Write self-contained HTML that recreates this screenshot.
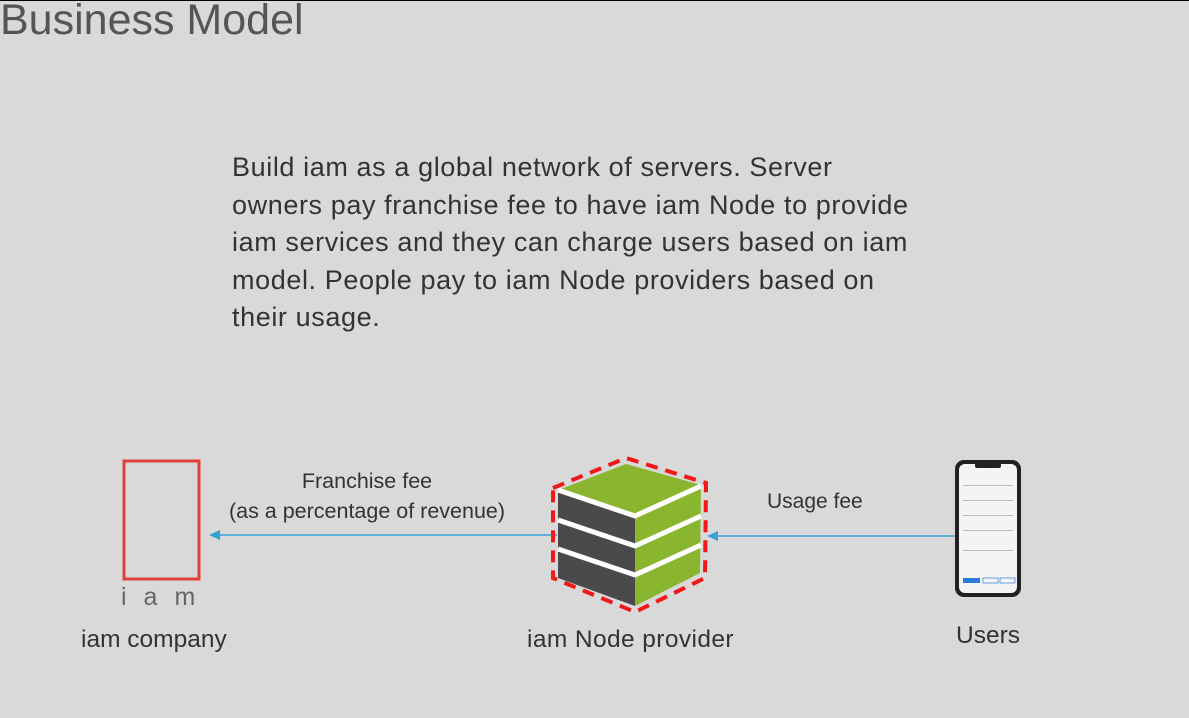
<!DOCTYPE html>
<html><head><style>
body{margin:0;width:1189px;height:718px;background:#d9d9d9;position:relative;overflow:hidden;font-family:"Liberation Sans",sans-serif;}
.t{position:absolute;white-space:nowrap;}
</style></head><body>
<div style="position:absolute;left:0;top:0;width:1189px;height:1px;background:#000"></div>
<div class="t" style="left:0;top:-4px;font-size:43px;color:#555">Business Model</div>
<div class="t" style="left:232px;top:149px;font-size:27px;letter-spacing:0.6px;line-height:37.6px;color:#333">Build iam as a global network of servers. Server<br>owners pay franchise fee to have iam Node to provide<br>iam services and they can charge users based on iam<br>model. People pay to iam Node providers based on<br>their usage.</div>
<div class="t" style="left:217px;top:466px;font-size:21.5px;line-height:30px;color:#333;text-align:center;width:300px">Franchise fee<br>(as a percentage of revenue)</div>
<div class="t" style="left:767px;top:490px;font-size:21px;color:#333">Usage fee</div>
<div class="t" style="left:81px;top:626px;font-size:24.5px;color:#333">iam company</div>
<div class="t" style="left:527px;top:626px;font-size:24.5px;letter-spacing:0.4px;color:#333">iam Node provider</div>
<div class="t" style="left:956px;top:622px;font-size:24.5px;color:#333">Users</div>
<div class="t" style="left:121px;top:583px;font-size:25px;color:#666;letter-spacing:17px">iam</div>
<svg width="1189" height="718" style="position:absolute;left:0;top:0">
<rect x="124" y="461" width="75" height="118" fill="none" stroke="#e0403c" stroke-width="3"/>
<line x1="218" y1="535" x2="557" y2="535" stroke="#3a9fd6" stroke-width="1.5"/>
<polygon points="209,535 220,530 220,540" fill="#3a9fd6"/>
<line x1="716" y1="536" x2="958" y2="536" stroke="#3a9fd6" stroke-width="1.5"/>
<polygon points="707,536 718,531 718,541" fill="#3a9fd6"/>
<polygon points="558,490 635,516 635,606 558,578" fill="#4a4a4a"/>
<polygon points="635,516 701,486 700,573 635,606" fill="#8ab52f"/>
<polygon points="558,490 626,464 701,485 635,516" fill="#8ab52f"/>
<g stroke="#fff" stroke-width="5" fill="none">
<polyline points="558,490 635,516 701,486"/>
<polyline points="558,520 635,546 701,516"/>
<polyline points="558,549 635,575 701,545"/>
</g>
<polygon points="553,488 626,458 706,483 705,578 635,612 553,578" fill="none" stroke="#f01818" stroke-width="4" stroke-dasharray="12,8"/>
<rect x="955" y="460" width="66" height="137" rx="9" fill="#222"/>
<rect x="959" y="464" width="58" height="129" rx="6" fill="#f4f4f4"/>
<rect x="975" y="463" width="26" height="5" rx="2" fill="#222"/>
<g fill="#bbb"><rect x="963" y="485" width="50" height="1"/><rect x="963" y="500" width="50" height="1"/><rect x="963" y="515" width="50" height="1"/><rect x="963" y="530" width="50" height="1"/><rect x="963" y="550" width="50" height="1"/></g>
<rect x="963" y="578" width="17" height="5" fill="#2a7ae0"/>
<rect x="983" y="578" width="15" height="5" fill="none" stroke="#2a7ae0" stroke-width="0.7"/>
<rect x="1000" y="578" width="15" height="5" fill="none" stroke="#2a7ae0" stroke-width="0.7"/>
</svg>
</body></html>
